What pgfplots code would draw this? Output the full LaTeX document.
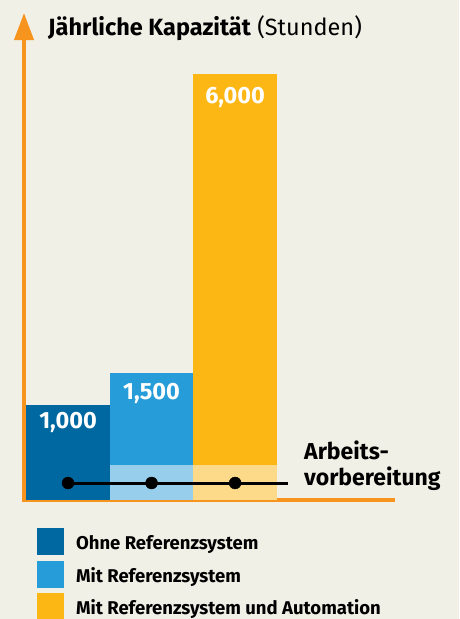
\documentclass[border=0pt]{standalone}
\usepackage{fontspec}
\setmainfont{Fira Sans}
\usepackage{pgfplots}
\pgfplotsset{compat=1.18}
\usetikzlibrary{arrows.meta}
\definecolor{bg}{RGB}{241,240,230}
\definecolor{dblue}{RGB}{0,104,160}
\definecolor{lblue}{RGB}{38,156,216}
\definecolor{yel}{RGB}{253,183,20}
\definecolor{orng}{RGB}{247,148,29}
\definecolor{pblue}{RGB}{150,206,235}
\definecolor{pyel}{RGB}{253,217,138}
\begin{document}
\begin{tikzpicture}
\fill[bg] (0,0) rectangle (459pt,-619pt);
\begin{axis}[
 at={(24pt,-500pt)}, anchor=south west, scale only axis,
 width=369pt, height=487pt,
 xmin=-0.527, xmax=3.89, ymin=0, ymax=487,
 axis x line*=bottom, axis y line*=left,
 x axis line style={-, draw=orng, line width=4pt, line cap=rect},
 y axis line style={-{Triangle[length=27pt,width=19pt]}, draw=orng, fill=orng, line width=4pt},
 xtick=\empty, ytick=\empty,
 clip=false,
 legend style={draw=none, fill=none, at={(axis description cs:0.035,-0.058)}, anchor=north west,
   inner sep=0pt, font=\fontsize{18.5}{21}\selectfont\bfseries, row sep=5.5pt,
   cells={anchor=west}, nodes={inner sep=0pt}},
 legend image code/.code={\fill[#1] (0pt,-12.5pt) rectangle (27pt,14.5pt); \path (39pt,0pt);},
 every node near coord/.style={anchor=center, text=white, font=\fontsize{23.5}{27}\selectfont\bfseries},
]
\addplot[ybar, bar width=1, bar shift=0pt, fill=dblue, draw=none,
  nodes near coords={1,000}, every node near coord/.append style={yshift=-17pt}] coordinates {(0,95)};
\addlegendentry{Ohne Referenzsystem}
\addplot[ybar, bar width=1, bar shift=0pt, fill=lblue, draw=none,
  nodes near coords={1,500}, every node near coord/.append style={yshift=-20pt}] coordinates {(1,127)};
\addlegendentry{Mit Referenzsystem}
\addplot[ybar, bar width=1, bar shift=0pt, fill=yel, draw=none,
  nodes near coords={6,000}, every node near coord/.append style={yshift=-23pt}] coordinates {(2,426)};
\addlegendentry{Mit Referenzsystem und Automation}
\addplot[ybar, bar width=1, bar shift=0pt, fill=pblue, draw=none, forget plot] coordinates {(1,35)};
\addplot[ybar, bar width=1, bar shift=0pt, fill=pyel, draw=none, forget plot] coordinates {(2,35)};
\addplot[black, line width=3pt, mark=none, forget plot] coordinates {(0,17) (2.63,17)};
\addplot[black, only marks, mark=*, mark size=6pt, forget plot] coordinates {(0,17) (1,17) (2,17)};
\end{axis}
\node[anchor=base west, inner sep=0pt] at (48pt,-35pt) {\fontsize{23.5}{27}\selectfont\textbf{Jährliche Kapazität} (Stunden)};
\node[anchor=west, align=left, inner sep=0pt, font=\fontsize{23}{26}\selectfont\bfseries] at (304pt,-466pt) {Arbeits-\\vorbereitung};
\pgfresetboundingbox
\path (0,0) rectangle (459pt,-619pt);
\end{tikzpicture}
\end{document}
